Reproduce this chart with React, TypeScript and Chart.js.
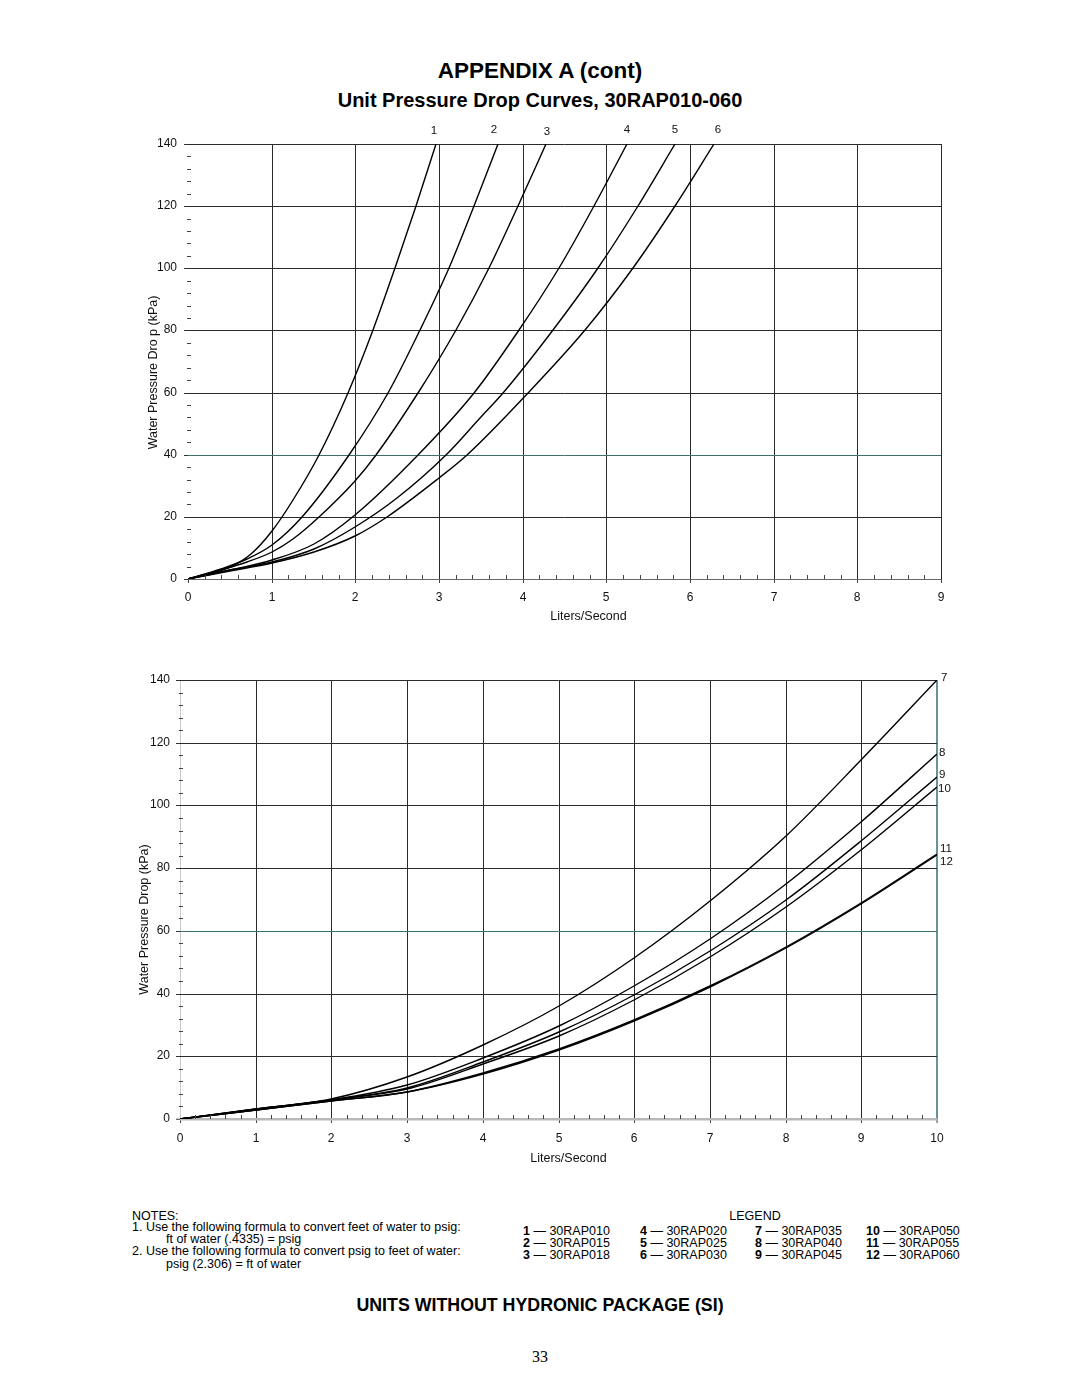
import React, { useEffect, useRef } from "react";
import { Chart, registerables } from "chart.js";

Chart.register(...registerables);

// ---------------- DATA ----------------
// Top chart: curves 1-6 (Liters/Second vs kPa)
const TOP_LABELS = ["1", "2", "3", "4", "5", "6"];
const TOP_X_TICKS = [0, 1, 2, 3, 4, 5, 6, 7, 8, 9];
const Y_TICKS = [0, 20, 40, 60, 80, 100, 120, 140];

const FLOW_1 = [0, 0.5, 0.75, 1.0, 1.25, 1.56, 1.91, 2.21, 2.48, 2.73, 2.96];
const DROP_1 = [0, 4.0, 8.0, 15.5, 25.5, 40, 60, 80, 100, 120, 140];

const FLOW_2 = [0, 0.4, 0.7, 1.0, 1.36, 1.93, 2.39, 2.77, 3.12, 3.42, 3.7];
const DROP_2 = [0, 3.3, 6.4, 11.1, 20, 40, 60, 80, 100, 120, 140];

const FLOW_3 = [0, 0.4, 0.7, 1.0, 1.25, 1.56, 2.0, 2.25, 2.75, 3.2, 3.6, 3.95, 4.28];
const DROP_3 = [0, 3.0, 5.6, 8.8, 13.0, 20, 31.5, 40, 60, 80, 100, 120, 140];

const FLOW_4 = [0, 0.5, 1.0, 1.5, 2.0, 2.75, 3.42, 3.96, 4.43, 4.85, 5.25];
const DROP_4 = [0, 3.0, 6.1, 11.3, 20.5, 40, 60, 80, 100, 120, 140];

const FLOW_5 = [0, 0.5, 1.0, 1.5, 2.0, 2.5, 3.08, 3.49, 3.77, 4.36, 4.9, 5.38, 5.82];
const DROP_5 = [0, 2.8, 5.5, 9.6, 16.6, 26, 40, 51.7, 60, 80, 100, 120, 140];

const FLOW_6 = [0, 0.5, 1.0, 1.5, 2.0, 2.38, 3.0, 3.34, 4.06, 4.75, 5.32, 5.82, 6.29];
const DROP_6 = [0, 2.7, 5.3, 8.8, 14.0, 20, 32.4, 40, 60, 80, 100, 120, 140];

// Bottom chart: curves 7-12
const BOTTOM_LABELS = ["7", "8", "9", "10", "11", "12"];
const BOTTOM_X_TICKS = [0, 1, 2, 3, 4, 5, 6, 7, 8, 9, 10];
const BOTTOM_FLOW = [0, 1, 2, 3, 4, 5, 6, 7, 8, 9, 10];

const DROP_7 = [0, 3.1, 6.4, 13.5, 23.5, 36.1, 51.4, 69.5, 90.3, 114.5, 140];
const DROP_8 = [0, 3.1, 6.2, 10.8, 19.6, 29.8, 42.3, 57.4, 74.8, 94.6, 116.4];
const DROP_9 = [0, 3.1, 6.0, 10.0, 18.3, 27.6, 39.4, 53.6, 70.0, 88.6, 109.0];
const DROP_10 = [0, 3.0, 5.9, 9.5, 17.5, 26.4, 38.0, 51.8, 67.7, 85.7, 105.8];
const DROP_11 = [0, 3.0, 5.8, 8.7, 14.7, 22.4, 31.7, 42.5, 54.9, 68.9, 84.5];
const DROP_12 = [0, 2.9, 5.6, 8.6, 14.5, 22.1, 31.4, 42.2, 54.6, 68.6, 84.2];

const LEGEND_NUMS = ["1", "2", "3", "4", "5", "6", "7", "8", "9", "10", "11", "12"];
const LEGEND_MODELS = [
  "30RAP010", "30RAP015", "30RAP018", "30RAP020", "30RAP025", "30RAP030",
  "30RAP035", "30RAP040", "30RAP045", "30RAP050", "30RAP055", "30RAP060",
];

// ---------------- STYLE ----------------
const FONT = "'Liberation Sans', Arial, Helvetica, sans-serif";
const GRID = "#2a2a2a";
const TEAL = "#3f7070";

const zip = (xs: number[], ys: number[]) => xs.map((x, i) => ({ x, y: ys[i] }));

const minorTicksPlugin = {
  id: "minorTicks",
  afterDraw(chart: any, _args: any, opts: any) {
    const { ctx, chartArea } = chart;
    const xs = chart.scales.x;
    const ys = chart.scales.y;
    ctx.save();
    ctx.strokeStyle = opts.color || "#333";
    ctx.lineWidth = 1;
    ctx.beginPath();
    const ny = Math.round((ys.max - ys.min) / opts.yStep);
    for (let i = 1; i < ny; i++) {
      const v = ys.min + i * opts.yStep;
      if (Math.abs(v / opts.yMajor - Math.round(v / opts.yMajor)) < 1e-6) continue;
      const py = Math.round(ys.getPixelForValue(v)) + 0.5;
      ctx.moveTo(chartArea.left - 1, py);
      ctx.lineTo(chartArea.left + 3, py);
    }
    const nx = Math.round((xs.max - xs.min) / opts.xStep);
    for (let i = 1; i < nx; i++) {
      const v = xs.min + i * opts.xStep;
      if (Math.abs(v - Math.round(v)) < 1e-6) continue;
      const px = Math.round(xs.getPixelForValue(v)) + 0.5;
      ctx.moveTo(px, chartArea.bottom);
      ctx.lineTo(px, chartArea.bottom - 4);
    }
    ctx.stroke();
    ctx.restore();
  },
};

const annotatePlugin = {
  id: "annotate",
  afterDraw(chart: any, _args: any, opts: any) {
    const { ctx, chartArea } = chart;
    ctx.save();
    ctx.fillStyle = "#111";
    ctx.font = `12.5px ${FONT}`;
    ctx.textAlign = "center";
    ctx.textBaseline = "middle";
    ctx.fillText(
      opts.xTitle,
      (chartArea.left + chartArea.right) / 2 + opts.xTitleDx,
      chartArea.bottom + opts.xTitleDy
    );
    ctx.save();
    ctx.translate(chartArea.left - opts.yTitleDx, (chartArea.top + chartArea.bottom) / 2 + opts.yTitleDy);
    ctx.rotate(-Math.PI / 2);
    ctx.fillText(opts.yTitle, 0, 0);
    ctx.restore();
    ctx.font = `11.5px ${FONT}`;
    ctx.textAlign = opts.labelAlign;
    chart.data.datasets.forEach((ds: any, i: number) => {
      const meta = chart.getDatasetMeta(i);
      const pt = meta.data[meta.data.length - 1];
      const off = opts.labelOffsets[i] || [0, 0];
      ctx.fillText(ds.label, pt.x + off[0], pt.y + off[1]);
    });
    ctx.restore();
  },
};

function buildChart(canvas: HTMLCanvasElement, cfg: any) {
  const datasets = cfg.series.map((s: any) => ({
    label: s.label,
    data: zip(s.x, s.y),
    borderColor: "#000",
    borderWidth: 1.4,
    pointRadius: 0,
    fill: false,
    cubicInterpolationMode: "monotone",
  }));
  return new Chart(canvas, {
    type: "line",
    data: { datasets },
    plugins: [minorTicksPlugin, annotatePlugin],
    options: {
      animation: false,
      responsive: false,
      maintainAspectRatio: false,
      events: [],
      layout: { padding: cfg.padding },
      plugins: {
        legend: { display: false },
        tooltip: { enabled: false },
        minorTicks: { xStep: 0.2, yStep: 4, yMajor: 20, color: "#444" },
        annotate: cfg.annotate,
      } as any,
      scales: {
        x: {
          type: "linear",
          min: 0,
          max: cfg.xMax,
          alignToPixels: true,
          afterFit: (s: any) => { s.height = cfg.xAxisHeight; },
          afterBuildTicks: (s: any) => { s.ticks = cfg.xTicks.map((v: number) => ({ value: v })); },
          ticks: {
            color: "#111",
            font: { family: FONT, size: 12 },
            padding: cfg.xTickPadding,
            maxRotation: 0,
            autoSkip: false,
          },
          grid: {
            color: (c: any) => {
              const v = c.tick ? c.tick.value : null;
              if (v === 0) return cfg.leftColor;
              if (v === cfg.xMax) return cfg.rightColor;
              return GRID;
            },
            lineWidth: (c: any) => {
              const v = c.tick ? c.tick.value : null;
              if (v === cfg.xMax) return cfg.rightWidth;
              return 1;
            },
            tickColor: "#444",
            tickWidth: 1,
            tickLength: 4,
          },
          border: { display: false },
        },
        y: {
          type: "linear",
          min: 0,
          max: 140,
          alignToPixels: true,
          afterFit: (s: any) => { s.width = cfg.yAxisWidth; },
          afterBuildTicks: (s: any) => { s.ticks = Y_TICKS.map((v: number) => ({ value: v })); },
          ticks: {
            color: "#111",
            font: { family: FONT, size: 12 },
            padding: cfg.yTickPadding,
            autoSkip: false,
          },
          grid: {
            color: (c: any) => {
              const v = c.tick ? c.tick.value : null;
              if (v === 0) return cfg.zeroColor;
              if (v === cfg.tealY) return TEAL;
              return GRID;
            },
            lineWidth: (c: any) => {
              const v = c.tick ? c.tick.value : null;
              if (v === 0) return cfg.zeroWidth;
              return 1;
            },
            tickColor: "#333",
            tickWidth: 1,
            tickLength: 4,
          },
          border: { display: false },
        },
      },
    } as any,
  });
}

export default function App() {
  const topRef = useRef<HTMLCanvasElement>(null);
  const botRef = useRef<HTMLCanvasElement>(null);

  useEffect(() => {
    const top = buildChart(topRef.current!, {
      series: [
        { label: TOP_LABELS[0], x: FLOW_1, y: DROP_1 },
        { label: TOP_LABELS[1], x: FLOW_2, y: DROP_2 },
        { label: TOP_LABELS[2], x: FLOW_3, y: DROP_3 },
        { label: TOP_LABELS[3], x: FLOW_4, y: DROP_4 },
        { label: TOP_LABELS[4], x: FLOW_5, y: DROP_5 },
        { label: TOP_LABELS[5], x: FLOW_6, y: DROP_6 },
      ],
      xMax: 9,
      xTicks: TOP_X_TICKS,
      padding: { left: 0, right: 39, top: 34, bottom: 0 },
      xAxisHeight: 61,
      yAxisWidth: 88,
      xTickPadding: 7,
      yTickPadding: 7,
      leftColor: "rgba(0,0,0,0)",
      rightColor: GRID,
      rightWidth: 1,
      zeroColor: "#666",
      zeroWidth: 1,
      tealY: 40,
      annotate: {
        xTitle: "Liters/Second",
        yTitle: "Water Pressure Dro p (kPa)",
        xTitleDx: 24,
        xTitleDy: 38,
        yTitleDx: 34,
        yTitleDy: 11,
        labelAlign: "center",
        labelOffsets: [[-2, -13], [-4, -14], [1, -12], [0, -14], [0, -14], [4, -14]],
      },
    });
    const bot = buildChart(botRef.current!, {
      series: [
        { label: BOTTOM_LABELS[0], x: BOTTOM_FLOW, y: DROP_7 },
        { label: BOTTOM_LABELS[1], x: BOTTOM_FLOW, y: DROP_8 },
        { label: BOTTOM_LABELS[2], x: BOTTOM_FLOW, y: DROP_9 },
        { label: BOTTOM_LABELS[3], x: BOTTOM_FLOW, y: DROP_10 },
        { label: BOTTOM_LABELS[4], x: BOTTOM_FLOW, y: DROP_11 },
        { label: BOTTOM_LABELS[5], x: BOTTOM_FLOW, y: DROP_12 },
      ],
      xMax: 10,
      xTicks: BOTTOM_X_TICKS,
      padding: { left: 0, right: 43, top: 20, bottom: 0 },
      xAxisHeight: 61,
      yAxisWidth: 80,
      xTickPadding: 8,
      yTickPadding: 6,
      leftColor: "#c8c8c8",
      rightColor: "#6a9494",
      rightWidth: 2,
      zeroColor: "#b8b8b8",
      zeroWidth: 2.5,
      tealY: 60,
      annotate: {
        xTitle: "Liters/Second",
        yTitle: "Water Pressure Drop (kPa)",
        xTitleDx: 10,
        xTitleDy: 40,
        yTitleDx: 35,
        yTitleDy: 20,
        labelAlign: "left",
        labelOffsets: [[4, -2], [2, -1], [2, -2], [1, 2], [3, -5], [3, 7]],
      },
    });
    return () => {
      top.destroy();
      bot.destroy();
    };
  }, []);

  const abs = (o: React.CSSProperties): React.CSSProperties => ({ position: "absolute", whiteSpace: "nowrap", ...o });
  const cols = [523, 640, 755, 866];
  const rows = [1231, 1243, 1255];

  return (
    <div style={{ position: "absolute", left: 0, top: 0, width: 1080, height: 1397, background: "#fff", fontFamily: FONT, color: "#000" }}>
      <div style={abs({ left: 0, width: 1080, top: 57, textAlign: "center", fontWeight: "bold", fontSize: 22.5, lineHeight: "28px" })}>
        APPENDIX A (cont)
      </div>
      <div style={abs({ left: 0, width: 1080, top: 88, textAlign: "center", fontWeight: "bold", fontSize: 20, lineHeight: "24px" })}>
        Unit Pressure Drop Curves, 30RAP010-060
      </div>

      <canvas ref={topRef} width={880} height={530} style={{ position: "absolute", left: 100, top: 110, width: 880, height: 530 }} />
      <canvas ref={botRef} width={880} height={520} style={{ position: "absolute", left: 100, top: 660, width: 880, height: 520 }} />

      <div style={{ position: "absolute", left: 0, top: 0, fontSize: 12.5, lineHeight: "14px" }}>
        <div style={abs({ left: 132, top: 1209 })}>NOTES:</div>
        <div style={abs({ left: 132, top: 1220 })}>1. Use the following formula to convert feet of water to psig:</div>
        <div style={abs({ left: 166, top: 1232 })}>ft of water (.4335) = psig</div>
        <div style={abs({ left: 132, top: 1244 })}>2. Use the following formula to convert psig to feet of water:</div>
        <div style={abs({ left: 166, top: 1257 })}>psig (2.306) = ft of water</div>

        <div style={abs({ left: 655, width: 200, top: 1209, textAlign: "center" })}>LEGEND</div>
        {LEGEND_NUMS.map((n, i) => (
          <div key={n} style={abs({ left: cols[Math.floor(i / 3)], top: rows[i % 3] - 7 })}>
            <b>{n}</b> — {LEGEND_MODELS[i]}
          </div>
        ))}
      </div>

      <div style={abs({ left: 0, width: 1080, top: 1294, textAlign: "center", fontWeight: "bold", fontSize: 17.8, lineHeight: "22px" })}>
        UNITS WITHOUT HYDRONIC PACKAGE (SI)
      </div>
      <div style={abs({ left: 0, width: 1080, top: 1347, textAlign: "center", fontFamily: "'Liberation Serif', 'Times New Roman', serif", fontSize: 16, lineHeight: "20px" })}>
        33
      </div>
    </div>
  );
}
